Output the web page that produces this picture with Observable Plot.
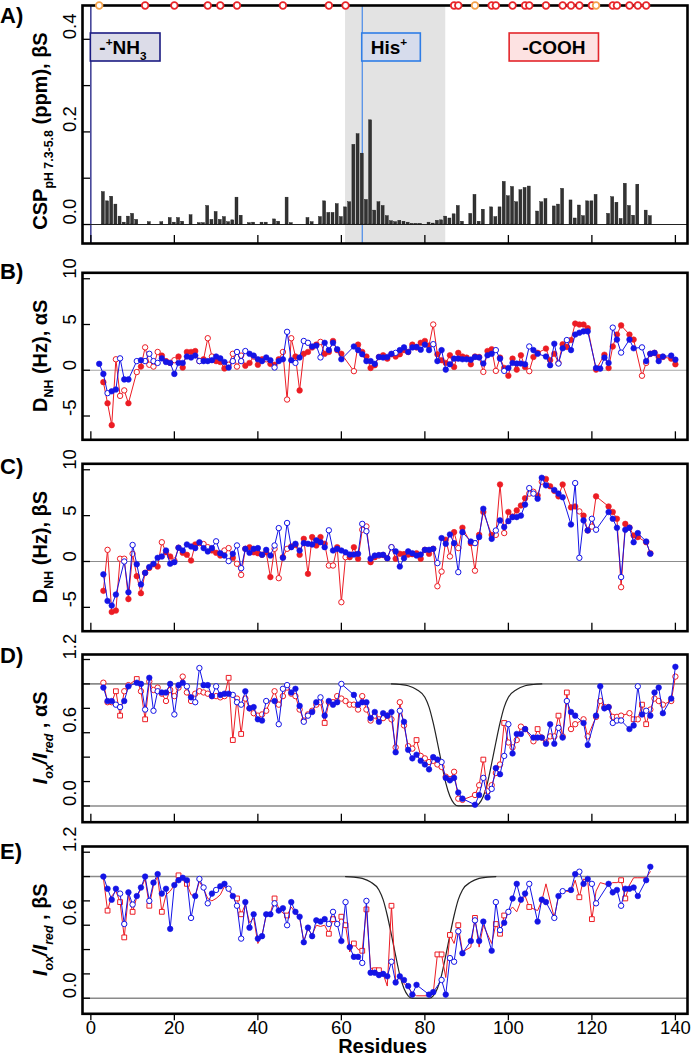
<!DOCTYPE html>
<html><head><meta charset="utf-8">
<script src="https://cdn.jsdelivr.net/npm/d3@7"></script>
<script src="https://cdn.jsdelivr.net/npm/@observablehq/plot@0.6"></script>
<style>
body{margin:0;background:#fff;}
#chart{width:693px;height:1057px;position:relative;overflow:hidden;}
#chart svg{display:block;overflow:visible;}
</style></head><body><div id="chart"></div>
<script>
const FONT = "'Liberation Sans', Arial, Helvetica, sans-serif";
const W = 693, ML = 82, MR = 6;
const xDomain = [-2, 142.9];
const xTicks = [0, 20, 40, 60, 80, 100, 120, 140];
const RED = "#ec1c24", BLUE = "#1414e6", ORANGE = "#f4a24c";

// ---------- Panel A data ----------
const aBars = [[3,0.070],[4,0.050],[5,0.060],[6,0.043],[7,0.017],[8,0.004],[9,0.017],[10,0.023],[11,0.010],[14,0.005],[17,0.005],[19,0.014],[20,0.004],[21,0.014],[22,0.006],[24,0.020],[26,0.003],[27,0.003],[28,0.040],[29,0.010],[30,0.027],[31,0.010],[32,0.016],[33,0.005],[34,0.009],[35,0.058],[36,0.019],[38,0.003],[39,0.004],[41,0.004],[42,0.004],[44,0.011],[45,0.006],[47,0.058],[48,0.003],[52,0.014],[53,0.005],[55,0.016],[56,0.050],[57,0.025],[58,0.025],[59,0.044],[60,0.016],[61,0.037],[62,0.048],[63,0.172],[64,0.195],[65,0.153],[66,0.053],[67,0.225],[68,0.030],[69,0.048],[70,0.040],[71,0.018],[72,0.007],[73,0.005],[74,0.008],[75,0.006],[76,0.004],[77,0.001],[78,0.001],[79,0.001],[81,0.004],[82,0.002],[83,0.008],[84,0.009],[85,0.017],[86,0.013],[87,0.022],[88,0.040],[89,0.006],[91,0.023],[92,0.064],[93,0.006],[94,0.032],[96,0.037],[97,0.016],[98,0.037],[99,0.092],[100,0.061],[101,0.081],[102,0.048],[103,0.074],[104,0.079],[105,0.082],[107,0.028],[108,0.048],[109,0.055],[111,0.039],[112,0.043],[113,0.077],[115,0.052],[116,0.013],[117,0.041],[118,0.018],[119,0.050],[120,0.050],[121,0.064],[124,0.023],[125,0.059],[126,0.047],[127,0.012],[128,0.088],[129,0.040],[130,0.019],[131,0.086],[133,0.030],[134,0.018]];
const aTopRed = [13,20,28,31,35,46,57,61,87,88,96,97,101,104,105,109,113,115,117,120,125,126,129,131,133];
const aTopOrange = [2,92,121];
const aBand = [[61,85]];
const aTermLine = [0];
const aHisLine = [65];
const aLabels = [
  {parts:[{t:"-"},{t:"+",sup:true},{t:"NH"},{t:"3",sub:true}], at:0, align:"start", fill:"#dcdce8", stroke:"#1c1c82"},
  {parts:[{t:"His"},{t:"+",sup:true}], at:65, align:"start", fill:"#d6dcec", stroke:"#2f7de6"},
  {parts:[{t:"-COOH"}], at:111, align:"middle", fill:"#fde2e2", stroke:"#e3262b"}
];

// ---------- Panel B (alpha S, D_NH) ----------
const bRed = [[3,-1.3,"f"],[4,-3.6,"f"],[5,-6.0,"f"],[6,1.2,"o"],[7,-2.8,"o"],[8,-2.2,"o"],[9,-3.6,"f"],[11,-0.2,"o"],[12,0.4,"f"],[13,2.5,"o"],[14,0.6,"o"],[15,0.4,"o"],[16,2.0,"o"],[17,1.6,"f"],[18,1.0,"f"],[19,0.8,"f"],[20,1.1,"o"],[21,1.5,"f"],[22,0.3,"f"],[23,2.0,"f"],[24,2.0,"f"],[25,2.1,"f"],[26,1.0,"o"],[27,1.2,"f"],[28,3.5,"o"],[29,1.5,"o"],[30,1.0,"f"],[31,0.9,"f"],[32,0.2,"f"],[33,0.6,"o"],[34,1.8,"o"],[35,0.4,"o"],[36,1.6,"o"],[37,0.5,"f"],[38,0.8,"f"],[39,1.5,"o"],[40,0.6,"f"],[41,1.2,"f"],[42,1.2,"o"],[43,0.7,"f"],[44,0.6,"f"],[45,1.2,"f"],[46,2.0,"o"],[47,-3.2,"o"],[48,3.5,"o"],[49,1.5,"f"],[50,-2.2,"f"],[51,1.8,"f"],[52,2.0,"f"],[53,2.5,"f"],[54,2.8,"f"],[55,3.1,"o"],[56,1.8,"f"],[57,2.0,"f"],[58,3.2,"f"],[59,2.2,"f"],[60,1.8,"f"],[63,-0.1,"o"],[64,2.8,"f"],[65,2.0,"f"],[66,1.5,"f"],[67,0.25,"f"],[68,0.55,"f"],[69,1.45,"f"],[70,1.64,"f"],[71,1.27,"f"],[72,1.75,"f"],[73,1.5,"f"],[74,1.75,"f"],[75,2.2,"f"],[76,2.0,"f"],[77,2.8,"f"],[78,2.5,"f"],[79,3.0,"f"],[80,3.2,"f"],[81,2.7,"f"],[82,5.0,"o"],[83,1.75,"f"],[84,1.1,"f"],[85,0.8,"f"],[86,1.64,"f"],[87,0.36,"f"],[88,1.9,"f"],[89,1.5,"f"],[90,1.38,"f"],[91,0.65,"f"],[92,1.5,"f"],[93,1.45,"f"],[94,-0.18,"o"],[95,2.1,"f"],[96,2.3,"f"],[97,-0.07,"o"],[98,1.38,"f"],[99,0.25,"f"],[100,-0.6,"f"],[101,1.27,"f"],[102,0.07,"f"],[103,1.64,"f"],[104,0.36,"f"],[105,-0.1,"o"],[106,1.45,"f"],[107,1.9,"f"],[109,2.37,"f"],[110,1.1,"f"],[111,1.8,"f"],[112,0.8,"o"],[113,2.84,"f"],[114,2.55,"f"],[115,3.3,"f"],[116,5.1,"f"],[117,5.0,"f"],[118,5.0,"f"],[119,4.6,"f"],[121,0.07,"f"],[123,1.7,"f"],[124,0.25,"f"],[125,2.6,"f"],[126,3.9,"f"],[127,4.9,"f"],[129,3.9,"f"],[130,3.35,"f"],[132,-0.6,"o"],[133,0.8,"o"],[134,1.8,"f"],[135,1.9,"f"],[136,1.45,"f"],[137,1.45,"f"],[139,1.27,"f"],[140,0.65,"f"]];
const bBlue = [[2,0.7,"f"],[3,-0.4,"f"],[4,-2.5,"o"],[5,-2.3,"f"],[6,-2.1,"f"],[7,1.3,"o"],[8,-1.0,"f"],[9,-1.0,"f"],[11,1.0,"o"],[12,1.1,"f"],[13,1.0,"o"],[14,1.8,"o"],[15,1.0,"o"],[16,0.8,"o"],[17,1.3,"f"],[18,0.9,"f"],[19,0.8,"f"],[20,-0.4,"f"],[21,0.8,"f"],[22,0.8,"f"],[23,1.5,"f"],[24,1.4,"f"],[25,1.6,"f"],[26,1.0,"o"],[27,1.0,"f"],[28,1.0,"f"],[29,1.1,"f"],[30,1.5,"f"],[31,1.3,"f"],[32,0.9,"f"],[33,0.3,"f"],[34,1.0,"o"],[35,2.0,"o"],[36,1.0,"o"],[37,2.1,"o"],[38,1.8,"f"],[39,1.6,"f"],[40,1.2,"f"],[41,1.0,"f"],[42,1.4,"f"],[43,1.1,"f"],[44,0.3,"o"],[45,1.0,"f"],[46,1.2,"f"],[47,4.2,"o"],[48,1.1,"f"],[49,0.8,"o"],[50,1.4,"f"],[51,3.2,"o"],[52,3.0,"o"],[53,2.6,"f"],[54,2.7,"f"],[55,1.4,"o"],[56,3.0,"f"],[57,2.2,"f"],[58,3.0,"f"],[59,2.3,"f"],[60,1.2,"f"],[63,2.6,"f"],[64,2.2,"f"],[65,1.75,"f"],[66,1.0,"f"],[67,1.0,"f"],[68,0.7,"f"],[69,1.45,"f"],[70,1.4,"f"],[71,1.45,"f"],[72,1.8,"f"],[73,1.9,"o"],[74,2.2,"f"],[75,2.5,"f"],[76,2.0,"f"],[77,2.5,"f"],[78,2.55,"f"],[79,2.25,"f"],[80,2.8,"f"],[81,2.2,"f"],[82,2.85,"o"],[83,1.0,"f"],[84,2.2,"f"],[85,0.07,"f"],[86,0.65,"f"],[87,1.27,"f"],[88,1.27,"f"],[89,1.2,"f"],[90,1.2,"f"],[91,1.16,"f"],[92,1.45,"f"],[93,1.4,"f"],[94,0.73,"f"],[95,1.64,"f"],[96,1.8,"f"],[97,2.2,"o"],[98,1.27,"f"],[99,-0.07,"o"],[100,0.25,"f"],[101,0.8,"f"],[102,0.73,"f"],[103,0.73,"f"],[104,0.65,"f"],[105,2.6,"o"],[106,2.2,"f"],[107,1.8,"f"],[109,1.5,"f"],[110,0.55,"f"],[111,2.9,"f"],[112,0.73,"o"],[113,2.4,"f"],[114,3.3,"o"],[115,2.2,"f"],[116,3.9,"f"],[117,4.1,"f"],[118,4.25,"f"],[119,4.25,"f"],[121,0.25,"f"],[122,0.18,"f"],[123,1.38,"f"],[124,0.8,"f"],[125,4.66,"o"],[126,3.35,"f"],[127,1.93,"o"],[129,3.35,"f"],[130,2.4,"f"],[132,2.5,"o"],[133,1.0,"f"],[134,1.8,"f"],[135,1.9,"f"],[136,1.0,"f"],[137,1.5,"f"],[139,1.6,"f"],[140,1.16,"f"]];

// ---------- Panel C (beta S, D_NH) ----------
const cRed = [[3,-3.2,"f"],[4,1.27,"o"],[5,-5.5,"f"],[6,-5.35,"f"],[7,0.3,"o"],[8,0.3,"o"],[9,-4.1,"f"],[10,0.84,"o"],[11,-1.6,"f"],[12,-3.46,"f"],[13,-1.24,"f"],[14,-0.7,"f"],[15,-0.3,"f"],[16,-0.55,"f"],[17,2.1,"o"],[18,1.0,"f"],[19,0.55,"f"],[20,0.1,"o"],[21,1.5,"o"],[22,0.95,"f"],[23,0.73,"f"],[24,0.1,"f"],[25,1.86,"f"],[26,2.0,"o"],[27,1.9,"o"],[28,1.56,"o"],[29,1.2,"f"],[30,0.95,"f"],[31,0.65,"f"],[32,1.2,"o"],[33,1.46,"o"],[34,0.4,"f"],[35,-0.25,"o"],[36,-1.46,"o"],[37,1.38,"o"],[38,1.56,"f"],[39,1.0,"f"],[40,0.9,"f"],[41,0.73,"f"],[42,1.0,"f"],[43,-1.7,"f"],[44,1.38,"o"],[45,-1.82,"o"],[46,0.47,"f"],[47,1.38,"o"],[48,1.64,"f"],[49,1.8,"f"],[50,0.73,"f"],[51,2.47,"f"],[52,-1.35,"f"],[53,2.66,"f"],[54,1.75,"f"],[55,2.66,"f"],[56,1.93,"f"],[57,-0.44,"o"],[58,-0.44,"o"],[59,1.56,"f"],[60,-4.44,"o"],[61,0.47,"o"],[62,0.47,"f"],[63,1.56,"f"],[64,0.3,"f"],[65,3.46,"o"],[66,3.82,"o"],[67,-0.07,"f"],[68,0.47,"f"],[69,0.65,"o"],[70,0.7,"f"],[71,0.36,"f"],[72,1.56,"o"],[73,0.3,"f"],[74,0.84,"f"],[75,0.8,"f"],[76,0.75,"f"],[77,0.8,"f"],[78,0.9,"f"],[79,0.3,"f"],[80,1.27,"f"],[81,0.84,"f"],[82,1.38,"f"],[83,-2.7,"o"],[84,-1.1,"o"],[85,2.37,"f"],[86,0.55,"o"],[87,3.2,"f"],[88,1.46,"o"],[89,3.68,"f"],[91,2.0,"f"],[92,-1.0,"o"],[93,2.9,"f"],[94,5.4,"f"],[96,2.9,"f"],[97,2.9,"o"],[98,8.4,"f"],[99,3.1,"o"],[100,5.4,"f"],[101,4.9,"f"],[102,5.57,"f"],[103,6.1,"f"],[104,6.9,"f"],[105,7.4,"o"],[106,7.6,"o"],[107,7.2,"f"],[108,8.7,"o"],[109,9.0,"f"],[110,8.2,"f"],[111,7.7,"f"],[112,7.1,"f"],[113,8.4,"f"],[115,5.9,"f"],[116,6.0,"f"],[117,5.46,"o"],[118,5.0,"f"],[119,3.38,"f"],[120,3.8,"o"],[121,7.1,"f"],[124,6.0,"f"],[125,5.4,"f"],[126,4.66,"f"],[127,-2.8,"o"],[128,4.1,"f"],[129,3.7,"f"],[130,2.84,"f"],[131,2.66,"f"],[133,2.1,"f"],[134,0.9,"f"]];
const cBlue = [[3,-1.4,"f"],[4,-4.3,"f"],[5,-4.8,"f"],[6,-3.6,"f"],[8,0.0,"o"],[9,-3.35,"f"],[10,1.8,"o"],[11,-0.3,"f"],[12,-2.5,"f"],[13,-1.24,"f"],[14,-0.6,"f"],[15,-0.25,"f"],[16,0.4,"f"],[17,0.55,"f"],[18,1.2,"f"],[19,-0.25,"f"],[20,-0.07,"f"],[21,1.5,"f"],[22,1.2,"f"],[23,1.86,"f"],[24,1.64,"f"],[25,1.46,"f"],[26,2.1,"f"],[27,1.46,"f"],[28,1.1,"f"],[29,1.46,"f"],[30,2.2,"o"],[31,0.9,"f"],[32,0.65,"f"],[33,0.04,"o"],[34,0.84,"f"],[35,1.75,"o"],[36,-0.73,"o"],[37,1.38,"f"],[38,0.95,"f"],[39,1.38,"f"],[40,1.46,"f"],[41,0.73,"f"],[42,1.27,"f"],[43,0.65,"f"],[44,1.75,"o"],[45,3.64,"o"],[46,0.4,"f"],[47,4.2,"o"],[48,1.56,"f"],[49,1.93,"f"],[50,1.2,"f"],[51,2.0,"f"],[52,1.93,"f"],[53,1.86,"f"],[54,2.3,"f"],[55,2.1,"f"],[56,1.56,"f"],[57,3.4,"o"],[58,1.2,"f"],[59,1.38,"f"],[60,1.2,"f"],[61,1.0,"f"],[62,0.76,"f"],[63,0.76,"f"],[64,0.84,"f"],[65,4.1,"o"],[66,3.3,"o"],[67,0.3,"f"],[68,0.65,"f"],[69,0.7,"f"],[70,0.73,"f"],[71,0.36,"f"],[72,1.56,"o"],[73,1.1,"f"],[74,-0.55,"f"],[75,0.36,"f"],[76,1.1,"f"],[77,0.9,"f"],[78,0.65,"f"],[79,0.76,"f"],[80,1.27,"f"],[81,1.27,"f"],[82,1.38,"f"],[83,-0.18,"o"],[84,2.55,"f"],[85,1.93,"f"],[86,2.95,"f"],[87,2.0,"f"],[88,-1.16,"o"],[89,3.2,"f"],[91,2.18,"f"],[92,2.0,"o"],[93,2.66,"f"],[94,5.75,"f"],[96,2.47,"f"],[97,3.38,"o"],[98,4.48,"f"],[99,3.75,"f"],[100,4.4,"f"],[101,4.84,"f"],[102,4.84,"f"],[103,5.0,"f"],[104,6.2,"f"],[105,8.0,"o"],[106,7.4,"o"],[107,6.84,"f"],[108,9.13,"f"],[109,8.3,"f"],[111,7.8,"f"],[112,7.4,"f"],[113,7.0,"f"],[115,4.04,"f"],[116,8.55,"o"],[117,0.4,"o"],[118,4.48,"f"],[119,3.38,"f"],[120,4.66,"o"],[121,3.46,"o"],[124,5.39,"f"],[125,4.66,"f"],[126,3.68,"f"],[127,-1.7,"o"],[128,3.46,"f"],[129,3.68,"f"],[130,2.1,"f"],[131,3.1,"f"],[133,2.18,"f"],[134,0.84,"f"]];

// ---------- Panel D (alpha S, PRE) ----------
const dRed = [[3,1.01,"o"],[4,0.85,"o"],[5,0.85,"o"],[6,0.94,"s"],[7,0.74,"s"],[8,0.94,"o"],[9,0.99,"o"],[11,1.04,"s"],[12,0.94,"o"],[13,0.71,"s"],[14,1.02,"o"],[15,0.95,"o"],[16,0.97,"o"],[17,0.92,"o"],[18,0.86,"o"],[19,0.95,"o"],[20,0.9,"o"],[21,0.97,"o"],[22,1.06,"o"],[23,0.93,"o"],[24,0.86,"o"],[25,0.92,"o"],[26,0.94,"o"],[27,0.93,"o"],[28,0.92,"o"],[29,0.9,"o"],[30,0.9,"o"],[31,0.89,"o"],[32,0.9,"o"],[33,1.05,"s"],[34,0.54,"s"],[35,0.88,"o"],[36,0.59,"s"],[37,0.88,"o"],[38,0.8,"o"],[39,0.76,"o"],[40,0.74,"o"],[41,0.75,"o"],[42,0.78,"o"],[44,0.94,"o"],[45,0.83,"o"],[46,0.9,"o"],[47,0.97,"o"],[48,0.92,"o"],[49,0.9,"o"],[50,0.79,"o"],[51,0.7,"o"],[52,0.75,"o"],[53,0.78,"o"],[54,0.83,"o"],[55,0.85,"o"],[56,0.68,"s"],[57,0.85,"o"],[58,0.85,"o"],[59,0.9,"o"],[60,0.88,"o"],[61,0.86,"o"],[62,0.83,"o"],[63,0.83,"o"],[64,0.79,"o"],[65,0.9,"o"],[66,0.79,"o"],[67,0.7,"o"],[68,0.74,"o"],[69,0.71,"o"],[70,0.72,"o"],[71,0.74,"o"],[72,0.71,"o"],[73,0.48,"o"],[74,0.85,"o"],[75,0.66,"o"],[76,0.49,"o"],[77,0.47,"o"],[78,0.54,"s"],[79,0.41,"o"],[80,0.39,"o"],[81,0.36,"o"],[82,0.37,"o"],[83,0.34,"o"],[84,0.32,"o"],[85,0.24,"o"],[86,0.22,"o"],[87,0.28,"o"],[88,0.06,"o"],[89,0.05,"o"],[92,0.09,"o"],[93,0.17,"o"],[94,0.38,"s"],[95,0.12,"o"],[96,0.17,"o"],[97,0.27,"o"],[98,0.34,"o"],[99,0.68,"s"],[100,0.52,"o"],[101,0.48,"o"],[102,0.54,"o"],[103,0.65,"o"],[104,0.63,"o"],[106,0.53,"o"],[107,0.63,"s"],[108,0.56,"o"],[109,0.52,"o"],[110,0.57,"o"],[111,0.57,"o"],[112,0.74,"s"],[113,0.57,"o"],[114,0.93,"s"],[115,0.63,"o"],[116,0.67,"o"],[118,0.71,"o"],[119,0.57,"o"],[121,0.73,"o"],[122,0.86,"o"],[123,0.81,"o"],[124,0.81,"o"],[125,0.73,"o"],[126,0.73,"o"],[127,0.74,"o"],[129,0.76,"o"],[130,0.71,"s"],[131,0.71,"o"],[132,0.83,"s"],[133,0.67,"s"],[134,0.79,"o"],[135,0.88,"o"],[136,0.86,"o"],[137,0.83,"o"],[139,0.86,"o"],[140,1.06,"o"]];
const dBlue = [[3,0.97,"f"],[4,0.86,"f"],[5,0.86,"f"],[6,0.83,"o"],[7,0.81,"o"],[8,0.86,"f"],[9,0.98,"f"],[11,1.01,"f"],[12,1.0,"f"],[13,0.79,"o"],[14,1.05,"f"],[15,0.78,"o"],[16,0.94,"o"],[17,0.93,"f"],[18,0.93,"f"],[19,1.0,"f"],[20,0.75,"o"],[21,0.99,"f"],[22,1.01,"f"],[23,0.98,"o"],[24,0.89,"f"],[25,0.85,"o"],[26,1.13,"o"],[27,0.99,"f"],[28,0.99,"f"],[29,0.9,"f"],[30,0.98,"o"],[31,0.91,"f"],[32,0.92,"f"],[33,0.92,"f"],[34,0.91,"o"],[35,0.85,"o"],[36,0.83,"o"],[37,0.94,"f"],[38,0.8,"f"],[39,0.81,"f"],[40,0.71,"f"],[41,0.7,"f"],[42,0.86,"o"],[44,0.86,"f"],[45,0.67,"o"],[46,0.96,"o"],[47,0.99,"o"],[48,0.93,"f"],[49,0.96,"f"],[50,0.82,"f"],[51,0.69,"o"],[52,0.74,"o"],[53,0.77,"f"],[54,0.85,"f"],[55,0.89,"o"],[56,0.74,"f"],[57,0.86,"f"],[58,0.83,"f"],[59,0.85,"f"],[60,1.0,"o"],[63,0.91,"f"],[64,0.83,"f"],[65,0.85,"f"],[66,0.85,"f"],[67,0.72,"f"],[68,0.77,"f"],[69,0.69,"f"],[70,0.76,"f"],[71,0.74,"f"],[72,0.77,"f"],[73,0.44,"f"],[74,0.78,"o"],[75,0.69,"f"],[76,0.46,"f"],[77,0.39,"f"],[78,0.42,"f"],[79,0.37,"f"],[80,0.34,"f"],[81,0.3,"f"],[82,0.4,"f"],[83,0.38,"f"],[84,0.36,"o"],[85,0.23,"f"],[86,0.21,"f"],[87,0.23,"f"],[88,0.11,"f"],[89,0.06,"f"],[92,0.01,"f"],[93,0.09,"f"],[94,0.23,"o"],[95,0.07,"f"],[96,0.14,"o"],[97,0.31,"f"],[98,0.26,"f"],[99,0.41,"o"],[100,0.67,"o"],[101,0.43,"f"],[102,0.59,"f"],[103,0.59,"f"],[104,0.63,"f"],[106,0.56,"f"],[107,0.56,"f"],[108,0.56,"f"],[109,0.51,"f"],[110,0.67,"f"],[111,0.51,"f"],[112,0.64,"o"],[113,0.56,"f"],[114,0.86,"o"],[115,0.77,"f"],[116,0.74,"f"],[118,0.68,"f"],[119,0.5,"f"],[121,0.74,"f"],[122,0.98,"f"],[123,0.8,"f"],[124,0.81,"f"],[125,0.68,"o"],[126,0.7,"o"],[127,0.7,"o"],[129,0.63,"f"],[130,0.66,"f"],[131,0.98,"o"],[132,0.75,"f"],[133,0.78,"o"],[134,0.74,"f"],[135,0.93,"f"],[136,0.97,"f"],[137,0.76,"f"],[139,0.88,"f"],[140,1.14,"f"]];
const dCurve = [[72,1.0],[74,0.995],[76,0.985],[78,0.955],[80,0.89],[81,0.81],[82,0.68],[83,0.52],[84,0.35],[85,0.19],[86,0.08],[87,0.02],[88,0.0],[92,0.0],[93,0.02],[94,0.08],[95,0.19],[96,0.35],[97,0.52],[98,0.68],[99,0.81],[100,0.89],[102,0.955],[104,0.985],[106,0.995],[108,1.0]];

// ---------- Panel E (beta S, PRE) ----------
const eRed = [[3,0.99,"n"],[4,0.72,"s"],[5,0.84,"n"],[6,0.88,"n"],[7,0.79,"s"],[8,0.5,"s"],[9,0.85,"n"],[10,0.71,"s"],[11,0.83,"n"],[12,0.9,"n"],[13,0.98,"n"],[14,0.76,"s"],[15,0.93,"n"],[16,1.0,"n"],[17,0.71,"s"],[18,0.85,"n"],[19,0.88,"n"],[20,0.93,"n"],[21,1.01,"s"],[22,0.97,"n"],[23,0.94,"s"],[24,0.85,"n"],[25,0.84,"n"],[26,0.96,"n"],[27,0.9,"n"],[28,0.82,"n"],[29,0.8,"n"],[30,0.82,"n"],[31,0.85,"n"],[32,0.92,"n"],[33,0.88,"n"],[34,0.85,"n"],[35,0.82,"s"],[36,0.69,"s"],[37,0.77,"n"],[38,0.62,"n"],[39,0.66,"n"],[40,0.45,"n"],[41,0.52,"n"],[42,0.68,"n"],[43,0.7,"n"],[44,0.82,"s"],[45,0.74,"n"],[46,0.7,"n"],[47,0.68,"s"],[48,0.75,"n"],[49,0.7,"n"],[50,0.66,"n"],[51,0.47,"n"],[52,0.57,"n"],[53,0.52,"n"],[54,0.6,"n"],[55,0.59,"n"],[56,0.6,"n"],[57,0.53,"s"],[58,0.65,"s"],[59,0.6,"n"],[60,0.67,"s"],[61,0.6,"s"],[62,0.38,"n"],[63,0.45,"s"],[64,0.4,"n"],[65,0.39,"s"],[66,0.73,"s"],[67,0.25,"n"],[68,0.23,"s"],[69,0.23,"s"],[70,0.2,"n"],[71,0.1,"n"],[72,0.76,"s"],[73,0.14,"n"],[74,0.17,"n"],[75,0.12,"n"],[76,0.09,"n"],[77,0.04,"n"],[78,0.02,"n"],[81,0.02,"n"],[82,0.04,"n"],[83,0.36,"s"],[84,0.36,"s"],[85,0.17,"n"],[86,0.52,"s"],[87,0.45,"n"],[88,0.6,"s"],[89,0.38,"n"],[91,0.42,"n"],[92,0.66,"s"],[93,0.42,"n"],[94,0.6,"n"],[96,0.45,"n"],[97,0.61,"s"],[98,0.53,"s"],[99,0.68,"s"],[100,0.71,"n"],[101,0.75,"n"],[102,0.71,"n"],[103,0.8,"n"],[104,0.84,"n"],[105,0.75,"s"],[107,0.72,"n"],[108,0.8,"n"],[109,0.94,"n"],[111,0.66,"n"],[112,0.84,"n"],[113,0.87,"n"],[114,0.88,"n"],[115,0.87,"n"],[116,0.97,"n"],[117,0.83,"s"],[118,0.98,"n"],[119,0.96,"n"],[120,0.65,"s"],[121,0.88,"n"],[122,0.95,"n"],[124,0.93,"n"],[125,0.95,"n"],[126,0.95,"n"],[127,0.97,"s"],[128,0.82,"s"],[129,0.93,"n"],[130,0.99,"n"],[131,0.99,"n"],[133,0.99,"n"],[134,1.04,"n"]];
const eBlue = [[3,1.0,"f"],[4,0.9,"f"],[5,0.81,"f"],[6,0.9,"f"],[7,0.86,"o"],[8,0.61,"o"],[9,0.87,"f"],[10,0.77,"o"],[11,0.84,"f"],[12,0.91,"f"],[13,1.0,"f"],[14,0.8,"o"],[15,0.95,"f"],[16,1.02,"f"],[17,0.86,"f"],[18,0.9,"f"],[19,0.57,"f"],[20,0.93,"f"],[21,0.97,"f"],[22,0.99,"f"],[23,0.97,"f"],[24,0.66,"o"],[25,0.84,"f"],[26,0.98,"o"],[27,0.91,"o"],[28,0.78,"o"],[29,0.86,"f"],[30,0.89,"o"],[31,0.92,"f"],[32,0.94,"f"],[33,0.9,"o"],[34,0.84,"f"],[35,0.76,"o"],[36,0.49,"o"],[37,0.79,"f"],[38,0.58,"f"],[39,0.69,"f"],[40,0.49,"f"],[41,0.51,"f"],[42,0.69,"f"],[43,0.69,"f"],[44,0.78,"o"],[45,0.72,"f"],[46,0.74,"f"],[47,0.6,"o"],[48,0.79,"f"],[49,0.71,"f"],[50,0.67,"f"],[51,0.46,"f"],[52,0.58,"f"],[53,0.51,"f"],[54,0.64,"f"],[55,0.63,"f"],[56,0.65,"f"],[57,0.61,"o"],[58,0.71,"o"],[59,0.61,"o"],[60,0.47,"f"],[61,0.79,"o"],[62,0.42,"f"],[63,0.34,"f"],[64,0.34,"f"],[65,0.29,"o"],[66,0.8,"o"],[67,0.21,"f"],[68,0.21,"f"],[69,0.19,"f"],[70,0.2,"f"],[71,0.18,"f"],[72,0.3,"o"],[73,0.13,"f"],[74,0.18,"f"],[75,0.15,"f"],[76,0.1,"f"],[77,0.03,"f"],[78,0.11,"f"],[81,0.03,"f"],[82,0.05,"f"],[84,0.15,"o"],[85,0.03,"f"],[86,0.33,"o"],[87,0.3,"o"],[88,0.55,"o"],[89,0.37,"f"],[91,0.47,"f"],[92,0.64,"o"],[93,0.47,"f"],[94,0.63,"f"],[96,0.39,"f"],[97,0.79,"o"],[98,0.56,"o"],[99,0.62,"f"],[100,0.71,"o"],[101,0.82,"f"],[102,0.94,"f"],[103,0.81,"f"],[104,0.86,"f"],[105,0.94,"o"],[107,0.63,"f"],[108,0.81,"f"],[109,0.79,"f"],[111,0.66,"o"],[112,0.84,"f"],[113,0.88,"o"],[115,0.89,"f"],[116,1.02,"f"],[117,1.04,"o"],[118,0.94,"f"],[119,0.98,"f"],[120,0.94,"o"],[121,0.78,"o"],[124,0.94,"f"],[125,0.87,"f"],[126,0.89,"f"],[127,0.76,"o"],[128,0.9,"f"],[129,0.9,"f"],[130,0.91,"f"],[131,0.84,"f"],[133,0.97,"f"],[134,1.08,"f"]];
const eCurve = [[61,1.0],[63,0.995],[65,0.985],[67,0.955],[69,0.89],[70,0.81],[71,0.68],[72,0.52],[73,0.35],[74,0.19],[75,0.08],[76,0.02],[77,0.0],[81,0.0],[82,0.02],[83,0.08],[84,0.19],[85,0.35],[86,0.52],[87,0.68],[88,0.81],[89,0.89],[91,0.955],[93,0.985],[95,0.995],[97,1.0]];

// ---------- helpers ----------
const X = d => d[0], Y = d => d[1];
function series(data, color) {
  return [
    Plot.line(data, {x: X, y: Y, stroke: color, strokeWidth: 1}),
    Plot.dot(data.filter(d => d[2] === "o"), {x: X, y: Y, r: 2.7, fill: "white", stroke: color, strokeWidth: 1}),
    Plot.dot(data.filter(d => d[2] === "s"), {x: X, y: Y, r: 2.7, symbol: "square", fill: "white", stroke: color, strokeWidth: 1}),
    Plot.dot(data.filter(d => d[2] === "f"), {x: X, y: Y, r: 2.8, fill: color, stroke: color, strokeWidth: 0.6})
  ];
}

function addRich(sel, parts, size) {
  let shift = 0;
  parts.forEach(p => {
    const ts = sel.append("tspan").text(p.t);
    let target = 0, fs = size;
    if (p.sub) { target = size * 0.3; fs = size * 0.62; }
    if (p.sup) { target = -size * 0.42; fs = size * 0.62; }
    ts.attr("font-size", fs).attr("dy", target - shift);
    if (p.it) ts.attr("font-style", "italic");
    shift = target;
  });
}

const panels = [
  {height: 256, mt: 5, mb: 13, yDomain: [-0.041, 0.473], yTicks: [0, 0.1, 0.2, 0.3, 0.4], yLabels: [0, 0.2, 0.4], fmt: d => d.toFixed(1),
   letter: "A)", letterY: 23, titleShift: 7,
   title: [{t: "CSP"}, {t: "pH 7.3-5.8", sub: true}, {t: " (ppm), βS"}],
   marks: [
     Plot.rect(aBand, {x1: d => d[0], x2: d => d[1], fill: "#e3e3e3"}),
     Plot.ruleX(aTermLine, {x: d => d, stroke: "#1c1c82", strokeWidth: 1.3}),
     Plot.ruleX(aHisLine, {x: d => d, stroke: "#3b82ea", strokeWidth: 1.1}),
     Plot.ruleY([0], {y: d => d, stroke: "#222", strokeWidth: 1}),
     Plot.rect(aBars, {x1: d => d[0] - 0.5, x2: d => d[0] + 0.5, insetLeft: 0.6, insetRight: 0.6, y1: 0, y2: Y, fill: "#333", stroke: "#111", strokeWidth: 0.4})
   ],
   over: [
     Plot.dot(aTopRed, {x: d => d, frameAnchor: "top", r: 3.3, fill: "white", stroke: "#e8252a", strokeWidth: 1.8}),
     Plot.dot(aTopOrange, {x: d => d, frameAnchor: "top", r: 3.3, fill: "white", stroke: ORANGE, strokeWidth: 1.8})
   ]},
  {height: 194, mt: 16.3, mb: 10.7, yDomain: [-7.6, 10.65], yTicks: [-5, 0, 5, 10], yLabels: [-5, 0, 5, 10], fmt: d => String(d),
   letter: "B)", letterY: 23, titleShift: 0,
   title: [{t: "D"}, {t: "NH", sub: true}, {t: " (Hz), αS"}],
   marks: [Plot.ruleY([0], {y: d => d, stroke: "#a6a6a6", strokeWidth: 1}), ...series(bRed, RED), ...series(bBlue, BLUE)], over: []},
  {height: 192, mt: 13.3, mb: 11.3, yDomain: [-7.6, 10.65], yTicks: [-5, 0, 5, 10], yLabels: [-5, 0, 5, 10], fmt: d => String(d),
   letter: "C)", letterY: 24, titleShift: 0,
   title: [{t: "D"}, {t: "NH", sub: true}, {t: " (Hz), βS"}],
   marks: [Plot.ruleY([0], {y: d => d, stroke: "#8c8c8c", strokeWidth: 1.2}), ...series(cRed, RED), ...series(cBlue, BLUE)], over: []},
  {height: 194, mt: 12, mb: 14.3, yDomain: [-0.133, 1.241], yTicks: [0, 0.2, 0.4, 0.6, 0.8, 1.0, 1.2], yLabels: [0, 0.6, 1.2], fmt: d => d.toFixed(1),
   letter: "D)", letterY: 21, titleShift: 0,
   title: [{t: "I", it: true}, {t: "ox", sub: true, it: true}, {t: "/", it: true}, {t: "I", it: true}, {t: "red", sub: true, it: true}, {t: " , αS"}],
   marks: [Plot.ruleY([0, 1], {y: d => d, stroke: "#8a8a8a", strokeWidth: 1.6}),
           Plot.line(dCurve, {x: X, y: Y, stroke: "#222", strokeWidth: 1.2, curve: "monotone-x"}),
           ...series(dRed, RED), ...series(dBlue, BLUE)], over: []},
  {height: 221, mt: 10, mb: 43.7, yDomain: [-0.128, 1.247], yTicks: [0, 0.2, 0.4, 0.6, 0.8, 1.0, 1.2], yLabels: [0, 0.6, 1.2], fmt: d => d.toFixed(1),
   letter: "E)", letterY: 23, titleShift: 0, bottomAxis: true,
   title: [{t: "I", it: true}, {t: "ox", sub: true, it: true}, {t: "/", it: true}, {t: "I", it: true}, {t: "red", sub: true, it: true}, {t: " , βS"}],
   marks: [Plot.ruleY([0, 1], {y: d => d, stroke: "#8a8a8a", strokeWidth: 1.6}),
           Plot.line(eCurve, {x: X, y: Y, stroke: "#222", strokeWidth: 1.2, curve: "monotone-x"}),
           ...series(eRed, RED), ...series(eBlue, BLUE)], over: []}
];

const container = document.getElementById("chart");
panels.forEach((p, i) => {
  const ih = p.height - p.mt - p.mb;
  const ux = (xDomain[1] - xDomain[0]) / (W - ML - MR);
  const uy = (p.yDomain[1] - p.yDomain[0]) / ih;
  const marks = [
    ...p.marks,
    Plot.ruleY(p.yTicks, {y: d => d, x1: xDomain[0], x2: xDomain[0] + 8 * ux, stroke: "black", strokeWidth: 1.3}),
    p.bottomAxis
      ? Plot.axisX(xTicks, {anchor: "bottom", tickSize: 7, tickPadding: 0, fontSize: 18.5, strokeWidth: 1.3, label: null})
      : Plot.ruleX(xTicks, {x: d => d, y1: p.yDomain[0], y2: p.yDomain[0] + 8 * uy, stroke: "black", strokeWidth: 1.3}),
    Plot.text(p.yLabels, {y: d => d, text: p.fmt, frameAnchor: "left", dx: -12, rotate: -90, fontSize: 18.5}),
    Plot.frame({stroke: "black", strokeWidth: 2.6}),
    ...p.over
  ];
  const svg = Plot.plot({
    width: W, height: p.height,
    marginLeft: ML, marginRight: MR, marginTop: p.mt, marginBottom: p.mb,
    x: p.bottomAxis ? {domain: xDomain} : {domain: xDomain, axis: null},
    y: {domain: p.yDomain, axis: null},
    style: {fontFamily: FONT, background: "transparent", overflow: "visible", color: "black"},
    marks
  });
  container.appendChild(svg);
  const s = d3.select(svg);
  const sx = svg.scale("x");
  // panel letter
  s.append("text").attr("x", 0).attr("y", p.letterY).attr("text-anchor", "start").attr("font-family", FONT)
    .attr("font-size", 22).attr("font-weight", "bold").text(p.letter);
  // y title (rotated)
  const cy = p.mt + ih / 2 + p.titleShift;
  const t = s.append("text").attr("transform", `translate(47,${cy}) rotate(-90)`)
    .attr("text-anchor", "middle").attr("font-family", FONT).attr("font-size", 20).attr("font-weight", "bold");
  addRich(t, p.title, 20);
  if (i === 0) {
    aLabels.forEach(l => {
      const g = s.append("g");
      const ax = sx.apply(l.at);
      const txt = g.append("text").attr("y", 54).attr("text-anchor", "start").attr("font-family", FONT).attr("font-size", 19).attr("font-weight", "bold");
      addRich(txt, l.parts, 19);
      const bb = txt.node().getBBox();
      let left, width;
      if (l.align === "start") { left = ax; txt.attr("x", ax + 9); width = bb.width + 22; }
      else { txt.attr("x", ax - bb.width / 2); width = bb.width + 26; left = ax - width / 2; }
      g.insert("rect", "text").attr("x", left).attr("y", 33).attr("width", width).attr("height", 28)
        .attr("fill", l.fill).attr("stroke", l.stroke).attr("stroke-width", 1.6);
    });
  }
  if (p.bottomAxis) {
    s.append("text").attr("x", sx.apply(70)).attr("y", 216.5).attr("text-anchor", "middle")
      .attr("font-family", FONT).attr("font-size", 20).attr("font-weight", "bold").text("Residues");
  }
});
</script></body></html>
